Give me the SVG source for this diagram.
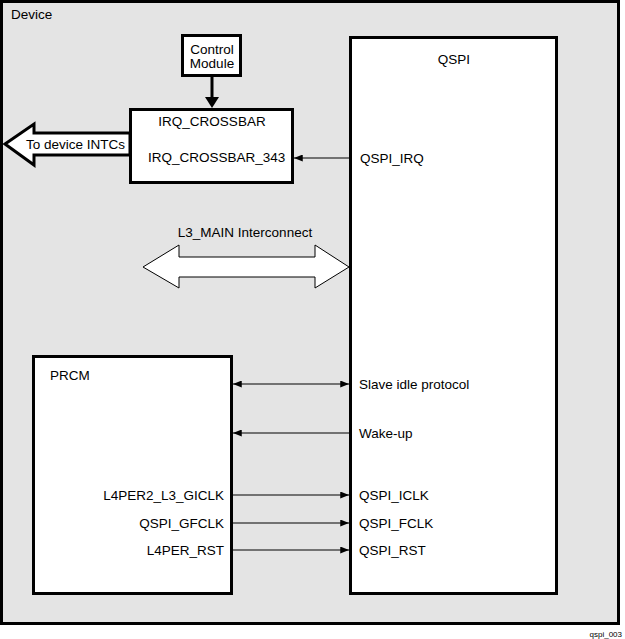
<svg xmlns="http://www.w3.org/2000/svg" width="625" height="639" viewBox="0 0 625 639">
<style>
text{font-family:"Liberation Sans",Arial,sans-serif;font-size:13.5px;fill:#000}
.box{fill:#fff;stroke:#000;stroke-width:3}
.thin{stroke:#000;stroke-width:1;fill:none}
.small{font-size:8px}
</style>
<defs>
<marker id="ah" viewBox="0 0 10 8" refX="10" refY="4" markerWidth="9" markerHeight="7" markerUnits="userSpaceOnUse" orient="auto-start-reverse">
<path d="M0,0 L10,4 L0,8 Z" fill="#000"/>
</marker>
</defs>
<g id="device">
<rect x="1.5" y="1.5" width="617" height="622" fill="#e4e4e4" stroke="#000" stroke-width="3"/>
<text x="11" y="19">Device</text>
</g>
<g id="control-module">
<rect class="box" x="182.5" y="35.5" width="58" height="40"/>
<text x="212" y="54" text-anchor="middle">Control</text>
<text x="212" y="68" text-anchor="middle">Module</text>
</g>
<g id="irq-crossbar">
<rect class="box" x="130.5" y="109.5" width="162" height="73"/>
<text x="212" y="126" text-anchor="middle">IRQ_CROSSBAR</text>
<text x="148" y="162">IRQ_CROSSBAR_343</text>
</g>
<g id="qspi">
<rect class="box" x="350.5" y="37.5" width="206" height="556"/>
<text x="454" y="64" text-anchor="middle">QSPI</text>
<text x="360" y="163">QSPI_IRQ</text>
<text x="359" y="389">Slave idle protocol</text>
<text x="359" y="438">Wake-up</text>
<text x="359" y="500">QSPI_ICLK</text>
<text x="359" y="528">QSPI_FCLK</text>
<text x="359" y="555">QSPI_RST</text>
</g>
<g id="prcm">
<rect class="box" x="33.5" y="356.5" width="198" height="237"/>
<text x="50" y="380">PRCM</text>
<text x="224" y="500" text-anchor="end">L4PER2_L3_GICLK</text>
<text x="224" y="528" text-anchor="end">QSPI_GFCLK</text>
<text x="224" y="555" text-anchor="end">L4PER_RST</text>
</g>
<g id="connectors">
<line x1="212" y1="77" x2="212" y2="99" stroke="#000" stroke-width="3"/>
<path d="M205,97 L219,97 L212,108 Z" fill="#000"/>
<path d="M5,144 L34,124 L34,133 L130,133 L130,155 L34,155 L34,165 Z" fill="#fff" stroke="#000" stroke-width="3" stroke-linejoin="miter"/>
<text x="26" y="149">To device INTCs</text>
<path d="M143,267 L179,245 L179,257 L315,257 L315,245 L349,267 L315,288 L315,277 L179,277 L179,288 Z" fill="#fff" stroke="#000" stroke-width="1"/>
<text x="245" y="237" text-anchor="middle">L3_MAIN Interconnect</text>
<line class="thin" x1="349" y1="158" x2="294" y2="158" marker-end="url(#ah)"/>
<line class="thin" x1="233" y1="384" x2="349" y2="384" marker-start="url(#ah)" marker-end="url(#ah)"/>
<line class="thin" x1="349" y1="433" x2="233" y2="433" marker-end="url(#ah)"/>
<line class="thin" x1="233" y1="495" x2="349" y2="495" marker-end="url(#ah)"/>
<line class="thin" x1="233" y1="523" x2="349" y2="523" marker-end="url(#ah)"/>
<line class="thin" x1="233" y1="550" x2="349" y2="550" marker-end="url(#ah)"/>
</g>
<text class="small" x="622" y="637" text-anchor="end">qspi_003</text>
</svg>
